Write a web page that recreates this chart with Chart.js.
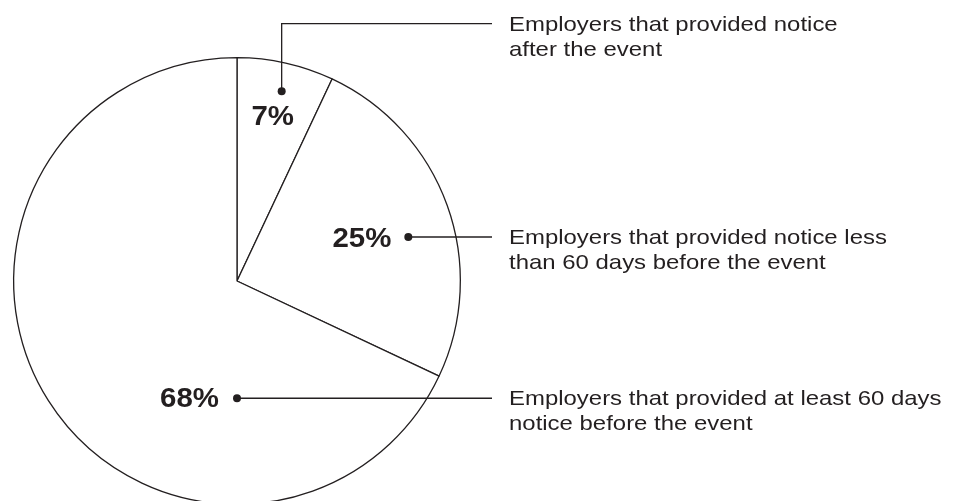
<!DOCTYPE html>
<html>
<head>
<meta charset="utf-8">
<script src="https://cdn.jsdelivr.net/npm/chart.js@4/dist/chart.umd.min.js"></script>
<style>
  html, body { margin: 0; padding: 0; background: #fff; overflow: hidden; }
  #wrap { position: relative; width: 955px; height: 520px; }
</style>
</head>
<body>
<div id="wrap"><canvas id="pie"></canvas></div>
<script>
const categories = [
  ["Employers that provided notice", "after the event"],
  ["Employers that provided notice less", "than 60 days before the event"],
  ["Employers that provided at least 60 days", "notice before the event"],
];
const shares = [7, 25, 68];
const percentLabels = ["7%", "25%", "68%"];

const INK = "#231f20";
const FONT = '"Liberation Sans", Arial, Helvetica, sans-serif';

// where each callout sits, in units of the pie radius from its centre
const callouts = [
  { dx: 0.20, dy: -0.85, elbowY: -1.152, pct: { align: "center", ox: -9, oy: 26 } },
  { dx: 0.767, dy: -0.197, elbowY: null, pct: { align: "right", ox: -17, oy: 3 } },
  { dx: 0.0, dy: 0.525, elbowY: null, pct: { align: "right", ox: -18, oy: 1 } },
];
const leaderEndX = 492;
const textX = 509;

// the source type is a touch wider than Liberation Sans
function wideText(ctx, str, x, y, sx) {
  ctx.save();
  ctx.translate(x, y);
  ctx.scale(sx, 1);
  ctx.fillText(str, 0, 0);
  ctx.restore();
}

const calloutPlugin = {
  id: "callouts",
  afterDraw(chart) {
    const arc = chart.getDatasetMeta(0).data[0];
    const cx = arc.x, cy = arc.y, R = arc.outerRadius;
    const ctx = chart.ctx;
    ctx.save();
    ctx.strokeStyle = INK;
    ctx.fillStyle = INK;
    ctx.lineWidth = 1.3;

    callouts.forEach((c, i) => {
      const px = cx + c.dx * R;
      const py = cy + c.dy * R;
      const lineY = c.elbowY === null ? py : cy + c.elbowY * R;

      ctx.beginPath();
      ctx.moveTo(px, py);
      if (c.elbowY !== null) ctx.lineTo(px, lineY);
      ctx.lineTo(leaderEndX, lineY);
      ctx.stroke();

      ctx.beginPath();
      ctx.arc(px, py, 4, 0, Math.PI * 2);
      ctx.fill();

      ctx.font = "bold 27px " + FONT;
      ctx.textAlign = c.pct.align;
      ctx.textBaseline = "middle";
      wideText(ctx, percentLabels[i], px + c.pct.ox, py + c.pct.oy, 1.09);

      ctx.font = "21px " + FONT;
      ctx.textAlign = "left";
      ctx.textBaseline = "alphabetic";
      categories[i].forEach((line, k) => {
        wideText(ctx, line, textX, lineY + 7 + k * 25, 1.14);
      });
    });
    ctx.restore();
  },
};

new Chart(document.getElementById("pie"), {
  type: "pie",
  data: {
    labels: categories.map((c) => c.join(" ")),
    datasets: [{
      data: shares,
      backgroundColor: "#ffffff",
      borderColor: INK,
      borderWidth: 1.3,
      hoverOffset: 0,
    }],
  },
  options: {
    responsive: true,
    maintainAspectRatio: false,
    animation: false,
    events: [],
    layout: { padding: { left: 13, top: 57, right: 494, bottom: 15 } },
    plugins: {
      legend: { display: false },
      tooltip: { enabled: false },
    },
  },
  plugins: [calloutPlugin],
});
</script>
</body>
</html>
